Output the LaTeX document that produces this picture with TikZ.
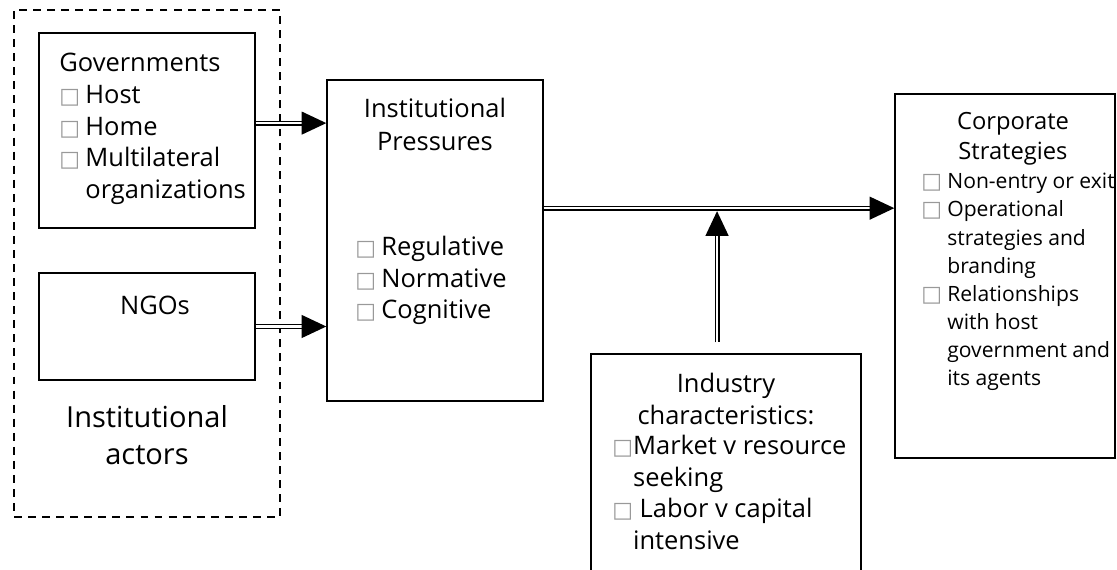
\documentclass[tikz,border=0pt]{standalone}
\usepackage{fontspec}
\setmainfont{Open Sans}
\newfontfamily\sqfont{DejaVu Sans}
\usetikzlibrary{positioning,arrows.meta,fit}
% grey bullet square used in the lists
\newcommand{\sq}{{\sqfont\fontsize{12.5}{12}\selectfont\color{gray!80}□}}
\newcommand{\bul}{\sq\hspace{3pt}}

\begin{document}
\begin{tikzpicture}[
  x=0.02cm, y=-0.02cm,
  box/.style={draw, line width=0.8pt, inner sep=0pt},
  actorsbox/.style={draw, line width=1.3pt, dash pattern=on 4.5pt off 3.5pt, inner sep=0pt},
  txt/.style={inner sep=0pt, font=\fontsize{14.5}{18}\selectfont},
  small/.style={inner sep=0pt, font=\fontsize{12}{16}\selectfont},
  link/.style={double, double distance=1.2pt, line width=0.8pt, -{Triangle[length=14pt,width=13pt]}}
]
  \useasboundingbox (0,0) rectangle (1117,570);
  \clip (0,0) rectangle (1117,570);

  % institutional actors
  \node[actorsbox, fit={(14,10) (280,517)}] (actors) {};
  \node[box, fit={(39,33) (255,228)}] (gov) {};
  \node[box, fit={(39,273) (255,380)}] (ngo) {};
  \node[txt, anchor=north west, align=left] (govtext) at (59,53)
    {Governments\\\bul Host\\\bul Home\\\bul Multilateral\\\hphantom{\bul}organizations};
  \node[txt] (ngotext) at (155,305) {NGOs};
  \node[txt, font=\fontsize{16.5}{21}\selectfont, align=center, anchor=north] (actorstext) at (147,405)
    {Institutional\\actors};

  % pressures
  \node[box, fit={(327,80) (543,401)}] (press) {};
  \node[txt, font=\fontsize{14.5}{18.7}\selectfont, align=center, anchor=north] (presstitle) at (435,98)
    {Institutional\\Pressures};
  \node[txt, align=left, anchor=north west] (pressitems) at (355,236)
    {\bul Regulative\\\bul Normative\\\bul Cognitive};

  % industry
  \node[box, fit={(591,354) (861,620)}] (indus) {};
  \node[txt, align=center, anchor=north] (industitle) at (726,373)
    {Industry\\characteristics:};
  \node[txt, align=left, anchor=north west] (indusitems) at (612,435)
    {\sq Market v resource\\\hphantom{\sq}seeking\\\sq\ Labor v capital\\\hphantom{\sq}intensive};

  % strategies
  \node[box, fit={(895,94) (1115,458)}] (corp) {};
  \node[small, font=\fontsize{13.5}{17}\selectfont, align=center, anchor=north] (corptitle) at (1013,112)
    {Corporate\\Strategies};
  \node[small, align=left, anchor=north west] (corpitems) at (921,173)
    {\bul Non-entry or exit\\\bul Operational\\\hphantom{\bul}strategies and\\\hphantom{\bul}branding\\
     \bul Relationships\\\hphantom{\bul}with host\\\hphantom{\bul}government and\\\hphantom{\bul}its agents};

  % arrows
  \coordinate (mainline) at ([yshift=18.4pt]press.east);
  \draw[link] ([yshift=4.2pt]gov.east) -- ([yshift=4.2pt]gov.east -| press.west);
  \draw[link] (ngo.east) -- (ngo.east -| press.west);
  \draw[link] (mainline) -- (mainline -| corp.west);
  \draw[link] ([shift={(-5.1pt,6.2pt)}]indus.north) -- ([shift={(-5.1pt,-1.7pt)}]indus.north |- mainline);
\end{tikzpicture}
\end{document}
